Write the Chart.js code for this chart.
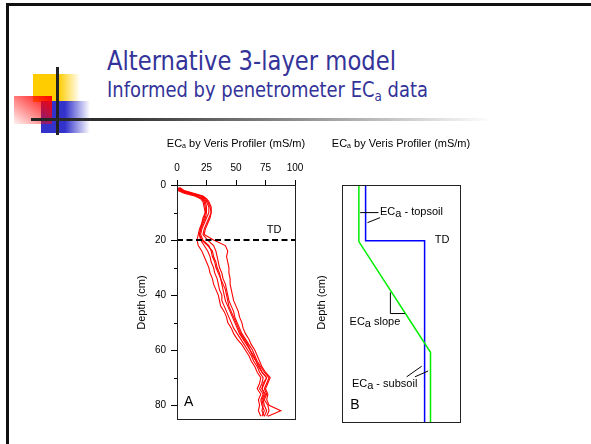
<!DOCTYPE html>
<html>
<head>
<meta charset="utf-8">
<script src="https://cdn.jsdelivr.net/npm/chart.js@4.4.0/dist/chart.umd.min.js"></script>
<style>
body { margin:0; width:591px; height:444px; overflow:hidden; background:#fff; position:relative; font-family:"Liberation Sans", Arial, sans-serif; }
.abs { position:absolute; }
#frame { left:6px; top:3px; width:600px; height:460px; border-left:3px solid #111; border-top:3px solid #111; }
#yellow { left:33px; top:74px; width:47px; height:28px; background:linear-gradient(to right, #ffcc00 0%, #ffcc00 55%, rgba(255,204,0,0) 100%); }
#blue { left:41px; top:101px; width:49px; height:32px; background:linear-gradient(to right, #3333cc 0%, #3333cc 49%, rgba(51,51,204,0) 100%); }
#red { left:14px; top:96px; width:38px; height:28px; background:linear-gradient(to bottom left, #ff0000 0%, rgba(255,0,0,0.05) 100%); }
#vline { left:56px; top:67px; width:3px; height:68px; background:#222; }
#hline { left:31px; top:118px; width:462px; height:3px; background:linear-gradient(to right, #222 0%, #333 20%, #888 55%, #fff 100%); }
.ttl { position:absolute; left:107px; color:#333399; white-space:nowrap; font-family:"DejaVu Sans Condensed","DejaVu Sans",sans-serif; transform-origin:0 0; }
#t1 { top:47px; font-size:27px; line-height:27px; }
#t2 { top:80px; font-size:21px; line-height:21px; }
#t2 sub { font-size:14px; vertical-align:-4px; line-height:0; }
canvas { position:absolute; }
#chartA { left:130px; top:130px; }
#chartB { left:310px; top:130px; }
</style>
</head>
<body>
<div id="frame" class="abs"></div>
<div id="yellow" class="abs"></div>
<div id="blue" class="abs"></div>
<div id="red" class="abs"></div>
<div id="vline" class="abs"></div>
<div id="hline" class="abs"></div>
<div id="t1" class="ttl">Alternative 3-layer model</div>
<div id="t2" class="ttl">Informed by penetrometer EC<sub>a</sub> data</div>
<canvas id="chartA" width="180" height="300"></canvas>
<canvas id="chartB" width="180" height="300"></canvas>
<script>
const FONT = '"Liberation Sans", Arial, sans-serif';

// panel A - penetrometer ECa profiles (mS/m) vs depth (cm)
const depthCm = [1,2,3,4,5,6,8,10,12,14,16,18,20,22,24,26,28,30,32,34,36,38,40,42,44,46,48,50,52,54,56,58,60,62,64,66,68,70,72,74,76,78,80,82,84];
const profile1 = [0.5,2,8,17,21,23,24,24,23,21,19,18,17,18,21,23,25,27,28,30,31,33,35,36,37,40,42,43,46,48,51,55,58,61,63,66,68,71,70,68,71,69,70,69,71];
const profile2 = [1,3,10,18,22,24,25,25,24,22,20,19,20,23,26,28,29,31,32,34,35,36,38,38,40,42,44,46,48,51,54,57,60,63,65,68,70,73,72,70,73,71,72,74,72];
const profile3 = [1.5,4,12,20,23,25,27,27,25,23,21,20,22,27,29,30,32,33,35,37,38,39,40,41,43,45,47,49,51,53,56,59,62,65,67,70,72,76,74,72,75,73,74,76,74];
const profile4 = [2,5,13,21,24,26,28,29,27,25,23,22,26,31,33,34,35,36,38,39,41,42,43,44,46,48,49,51,53,55,58,61,64,66,68,71,74,78,76,74,76,74,77,78,76];
const profile5 = [2.5,6,14,22,25,27,29,29,28,26,24,23,31,41,43,42,43,44,44,45,45,46,47,48,50,52,53,55,56,58,61,63,66,68,70,72,75,79,77,75,77,76,78,88,77];
const profile6 = [0,1,6,15,20,22,23,24,22,21,20,19,21,26,30,31,33,34,36,37,39,41,42,43,44,46,48,50,52,54,57,60,62,64,67,69,72,76,73,72,74,72,73,72,74];
const profiles = [profile1, profile2, profile3, profile4, profile5, profile6];

const ecTicks = [0, 25, 50, 75, 100];
const depthTicks = [0, 20, 40, 60, 80];
const minorDepthTicks = [10, 30, 50, 70];
const tdEc = [0, 100];
const tdDepth = [20, 20];

// panel B - 3-layer model
const topsoilEc = [20, 20, 70, 70];
const topsoilDepth = [0, 20, 20, 85];
const modelEc = [14.3, 14.3, 75, 75];
const modelDepth = [0, 20.3, 60, 85];

function pts(xs, ys) {
  return xs.map((v, i) => ({x: v, y: ys[i]}));
}

// draw text made of runs: [text, size, dy]
function runs(ctx, parts, x, y, align) {
  let w = 0;
  parts.forEach(p => { ctx.font = p[1] + 'px ' + FONT; w += ctx.measureText(p[0]).width; });
  let cx = align === 'center' ? x - w / 2 : x;
  ctx.textAlign = 'left';
  ctx.textBaseline = 'middle';
  parts.forEach(p => {
    ctx.font = p[1] + 'px ' + FONT;
    ctx.fillText(p[0], cx, y + p[2]);
    cx += ctx.measureText(p[0]).width;
  });
}

function frameAndTitles(chart) {
  const {ctx, chartArea: a} = chart;
  ctx.save();
  ctx.strokeStyle = '#222';
  ctx.lineWidth = 1;
  ctx.strokeRect(Math.round(a.left) + 0.5, Math.round(a.top) + 0.5, Math.round(a.right - a.left), Math.round(a.bottom - a.top));
  ctx.fillStyle = '#000';
  runs(ctx, [['EC', 11, 0], ['a', 7, 2], [' by Veris Profiler (mS/m)', 11, 0]], (a.left + a.right) / 2, 14, 'center');
  ctx.translate(11.5, 172.5);
  ctx.rotate(-Math.PI / 2);
  ctx.font = '11px ' + FONT;
  ctx.textAlign = 'center';
  ctx.textBaseline = 'middle';
  ctx.fillText('Depth (cm)', 0, 0);
  ctx.restore();
}

function line(ctx, x, y, xs, ys) {
  ctx.beginPath();
  xs.forEach((v, i) => {
    const px = x.getPixelForValue(v), py = y.getPixelForValue(ys[i]);
    if (i === 0) ctx.moveTo(px, py); else ctx.lineTo(px, py);
  });
  ctx.stroke();
}

const panelA = {
  id: 'panelA',
  afterDraw(chart) {
    const {ctx, chartArea: a, scales: {x, y}} = chart;
    frameAndTitles(chart);
    ctx.save();
    ctx.strokeStyle = '#000';
    ctx.lineWidth = 1;
    minorDepthTicks.forEach(v => {
      const py = Math.round(y.getPixelForValue(v)) + 0.5;
      ctx.beginPath(); ctx.moveTo(a.left - 3, py); ctx.lineTo(a.left, py); ctx.stroke();
    });
    ctx.fillStyle = '#000';
    runs(ctx, [['TD', 11, 0]], x.getPixelForValue(76), y.getPixelForValue(16.2), 'left');
    runs(ctx, [['A', 14, 0]], x.getPixelForValue(6), y.getPixelForValue(79), 'left');
    ctx.restore();
  }
};

const panelB = {
  id: 'panelB',
  afterDraw(chart) {
    const {ctx, scales: {x, y}} = chart;
    frameAndTitles(chart);
    ctx.save();
    ctx.strokeStyle = '#000';
    ctx.fillStyle = '#000';
    ctx.lineWidth = 1;
    line(ctx, x, y, [15.4, 30.9], [9.9, 9.9]);
    line(ctx, x, y, [21.6, 32.3], [13.5, 11.7]);
    line(ctx, x, y, [41, 41, 53.4], [38.5, 46.1, 46.1]);
    line(ctx, x, y, [54.8, 67.5], [68.8, 65]);
    line(ctx, x, y, [61.8, 73], [68.8, 66.7]);
    runs(ctx, [['EC', 11, 0], ['a', 11, 2], [' - topsoil', 11, 0]], x.getPixelForValue(32.2), y.getPixelForValue(9.7), 'left');
    runs(ctx, [['TD', 11, 0]], x.getPixelForValue(78.7), y.getPixelForValue(19.7), 'left');
    runs(ctx, [['EC', 11, 0], ['a', 11, 2], [' slope', 11, 0]], x.getPixelForValue(6.4), y.getPixelForValue(49), 'left');
    runs(ctx, [['EC', 11, 0], ['a', 11, 2], [' - subsoil', 11, 0]], x.getPixelForValue(8.4), y.getPixelForValue(71.2), 'left');
    runs(ctx, [['B', 14, 0]], x.getPixelForValue(7), y.getPixelForValue(79), 'left');
    ctx.restore();
  }
};

const redSets = profiles.map(p => ({
  data: pts(p, depthCm),
  showLine: true,
  borderColor: '#ff0000',
  borderWidth: 1.1,
  pointRadius: 0,
  tension: 0
}));

new Chart(document.getElementById('chartA'), {
  type: 'scatter',
  data: {
    datasets: [{
      data: pts(tdEc, tdDepth),
      showLine: true,
      borderColor: '#000',
      borderWidth: 2,
      borderDash: [6, 3.5],
      pointRadius: 0
    }].concat(redSets)
  },
  options: {
    responsive: false,
    animation: false,
    layout: {padding: {left: 0, top: 0, right: 15, bottom: 8}},
    plugins: {legend: {display: false}, tooltip: {enabled: false}},
    scales: {
      x: {
        type: 'linear', position: 'top', min: 0, max: 100,
        afterBuildTicks: s => { s.ticks = ecTicks.map(v => ({value: v})); },
        afterFit: s => { s.height = 55; },
        ticks: {color: '#000', font: {size: 10, family: FONT}, padding: 6, maxRotation: 0},
        grid: {drawOnChartArea: false, tickLength: 5, color: '#000'},
        border: {color: '#000'}
      },
      y: {
        type: 'linear', reverse: true, min: 0, max: 85,
        afterBuildTicks: s => { s.ticks = depthTicks.map(v => ({value: v})); },
        afterFit: s => { s.width = 47; },
        ticks: {color: '#000', font: {size: 10, family: FONT}, padding: 5},
        grid: {drawOnChartArea: false, tickLength: 6, color: '#000'},
        border: {color: '#000'}
      }
    }
  },
  plugins: [panelA]
});

new Chart(document.getElementById('chartB'), {
  type: 'scatter',
  data: {
    datasets: [
      {data: pts(modelEc, modelDepth), showLine: true, borderColor: '#00ee00', borderWidth: 1.5, pointRadius: 0},
      {data: pts(topsoilEc, topsoilDepth), showLine: true, borderColor: '#0000ff', borderWidth: 1.5, pointRadius: 0}
    ]
  },
  options: {
    responsive: false,
    animation: false,
    layout: {padding: {left: 32, top: 55, right: 30, bottom: 8}},
    plugins: {legend: {display: false}, tooltip: {enabled: false}},
    scales: {
      x: {type: 'linear', display: false, min: 0, max: 100},
      y: {type: 'linear', display: false, reverse: true, min: 0, max: 85}
    }
  },
  plugins: [panelB]
});

// squeeze slide titles to the width they take in the slide
[['t1', 289], ['t2', 321]].forEach(([id, w]) => {
  const el = document.getElementById(id);
  const cur = el.getBoundingClientRect().width;
  el.style.transform = 'scaleX(' + (w / cur) + ')';
});
</script>
</body>
</html>
